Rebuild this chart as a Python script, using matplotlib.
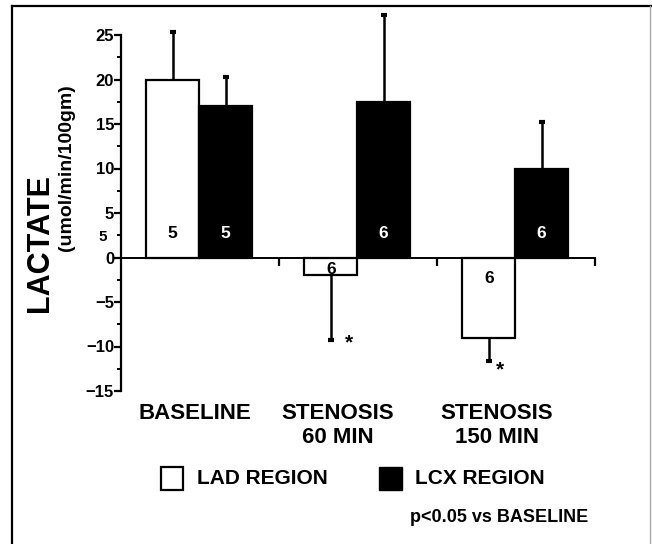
import matplotlib
matplotlib.use("Agg")
import matplotlib.pyplot as plt
from matplotlib.lines import Line2D
from matplotlib.patches import Rectangle

# data
groups = ["BASELINE", "STENOSIS\n60 MIN", "STENOSIS\n150 MIN"]
lad_mean = [20, -2, -9]
lad_err = [5.3, 7.3, 2.6]
lcx_mean = [17, 17.5, 10]
lcx_err = [3.3, 9.7, 5.2]
lad_n = ["5", "6", "6"]
lcx_n = ["5", "6", "6"]
lad_n_y = [2.7, -1.3, -2.4]
lcx_n_y = [2.7, 2.7, 2.7]
star_x = [1.44, 2.40]
star_y = [-9.6, -12.6]
label_x = [0.47, 1.37, 2.38]

plt.rcParams['font.family'] = ['Liberation Sans', 'DejaVu Sans']
plt.rcParams['font.weight'] = 'bold'

fig = plt.figure(figsize=(6.52, 5.44), dpi=100)
ax = fig.add_axes([121/652, 1 - 391/544, (595 - 121)/652, (391 - 35)/544])

w = 0.335
centers = [0.5, 1.5, 2.5]
lad_x = [c - w/2 - 0.005 for c in centers]
lcx_x = [c + w/2 - 0.005 for c in centers]

ax.bar(lad_x, lad_mean, width=w, color='white', edgecolor='black', linewidth=1.6, zorder=2)
ax.bar(lcx_x, lcx_mean, width=w, color='black', edgecolor='black', linewidth=1.6, zorder=2)

# one-sided error bars, pointing away from zero
for xs, ms, es in [(lad_x, lad_mean, lad_err), (lcx_x, lcx_mean, lcx_err)]:
    for x, m, e in zip(xs, ms, es):
        end = m + e if m >= 0 else m - e
        ax.plot([x, x], [m, end], color='black', linewidth=1.8, zorder=1,
                solid_capstyle='butt', clip_on=False)
        ax.plot([x], [end], marker='_', markersize=4, markeredgewidth=3,
                color='black', zorder=1, clip_on=False)

for x, y, t in zip(lad_x, lad_n_y, lad_n):
    ax.text(x, y, t, ha='center', va='center', fontsize=12.5, color='black', zorder=3)
for x, y, t in zip(lcx_x, lcx_n_y, lcx_n):
    ax.text(x, y, t, ha='center', va='center', fontsize=12.5, color='white', zorder=3)

for x, y in zip(star_x, star_y):
    ax.text(x, y, "*", ha='center', va='center', fontsize=15)

ax.set_xlim(0, 3)
ax.set_ylim(-15, 25)
ax.spines['top'].set_visible(False)
ax.spines['right'].set_visible(False)
ax.spines['bottom'].set_position(('data', 0))
ax.spines['bottom'].set_linewidth(1.4)
ax.spines['left'].set_linewidth(1.6)

ax.set_xticks([1, 2, 3])
ax.set_xticklabels([])
ax.tick_params(axis='x', direction='out', length=6, width=1.6)
ax.set_yticks(range(-15, 26, 5))
ax.set_yticks([v + 2.5 for v in range(-15, 25, 5)], minor=True)
ax.tick_params(axis='y', which='major', length=5, width=1.6, labelsize=12, pad=0)
ax.tick_params(axis='y', which='minor', length=3, width=1.4)
for lab in ax.get_yticklabels():
    lab.set_fontweight('bold')

for x, g in zip(label_x, groups):
    ax.text(x, -16.3, g, ha='center', va='top', fontsize=16, linespacing=1.2,
            transform=ax.transData, clip_on=False)

fig.text(40/652, 1 - 243/544, "LACTATE", rotation=90, ha='center', va='center', fontsize=22)
fig.text(67/652, 1 - 168/544, "(umol/min/100gm)", rotation=90, ha='center', va='center', fontsize=14)
fig.text(103/652, 1 - 237/544, "5", ha='center', va='center', fontsize=11)

# legend drawn by hand
fig.add_artist(Rectangle((161/652, 1 - 490/544), 22/652, 23/544, facecolor='white',
                         edgecolor='black', linewidth=1.6, transform=fig.transFigure))
fig.text(197/652, 1 - 478/544, "LAD REGION", ha='left', va='center', fontsize=15)
fig.add_artist(Rectangle((379/652, 1 - 490/544), 23/652, 23/544, facecolor='black',
                         edgecolor='black', linewidth=1.0, transform=fig.transFigure))
fig.text(415/652, 1 - 478/544, "LCX REGION", ha='left', va='center', fontsize=15)
fig.text(410/652, 1 - 518/544, "p<0.05 vs BASELINE", ha='left', va='center', fontsize=13)

# outer frame
fig.add_artist(Line2D([12/652, 12/652], [0, 1 - 6/544], color='black', linewidth=1.6))
fig.add_artist(Line2D([12/652, 651/652], [1 - 6/544, 1 - 6/544], color='black', linewidth=1.6))
fig.add_artist(Line2D([650/652, 650/652], [0, 1 - 6/544], color='#aaaaaa', linewidth=1.0))

fig.savefig("out.png", dpi=100, facecolor='white')
